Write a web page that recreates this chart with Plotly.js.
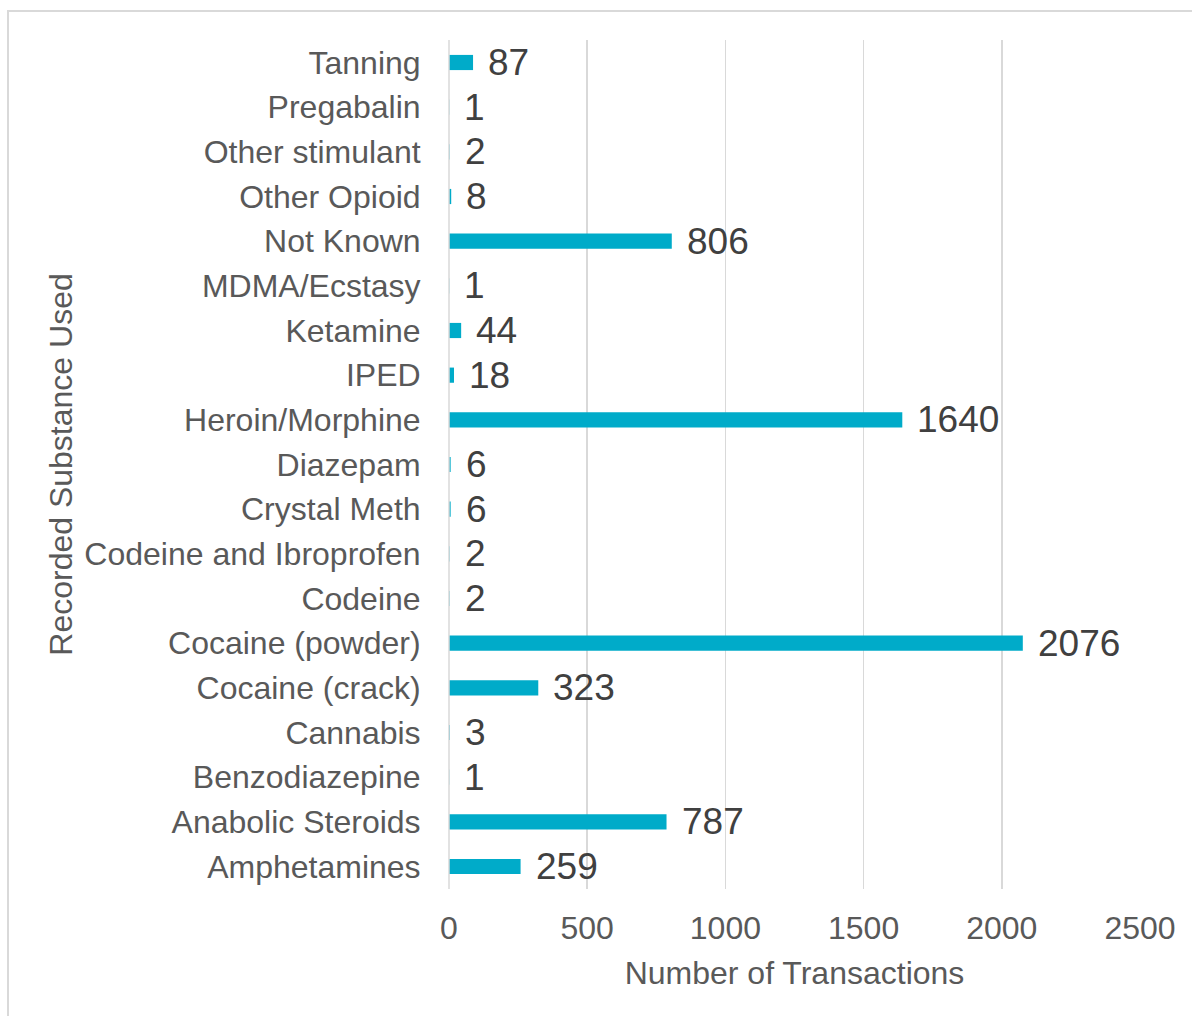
<!DOCTYPE html>
<html>
<head>
<meta charset="utf-8">
<script src="https://cdn.plot.ly/plotly-3.0.1.min.js"></script>
<style>
  html, body { margin: 0; padding: 0; background: #ffffff; }
  #chart { width: 1192px; height: 1016px; }
</style>
</head>
<body>
<div id="chart"></div>
<script>
// Categories listed bottom to top (Plotly draws the first category at the bottom)
const categories = [
  "Amphetamines", "Anabolic Steroids", "Benzodiazepine", "Cannabis",
  "Cocaine (crack)", "Cocaine (powder)", "Codeine", "Codeine and Ibroprofen",
  "Crystal Meth", "Diazepam", "Heroin/Morphine", "IPED", "Ketamine",
  "MDMA/Ecstasy", "Not Known", "Other Opioid", "Other stimulant",
  "Pregabalin", "Tanning"
];
const transactions = [
  259, 787, 1, 3,
  323, 2076, 2, 2,
  6, 6, 1640, 18, 44,
  1, 806, 8, 2,
  1, 87
];
const xTickValues = [0, 500, 1000, 1500, 2000, 2500];
const xTitle = "Number of Transactions";
const yTitle = "Recorded Substance Used";

const FONT = "'Liberation Sans', Arial, sans-serif";

const trace = {
  type: "bar",
  orientation: "h",
  y: categories,
  x: transactions,
  width: 0.34,
  marker: { color: "#00ABC9", line: { width: 0 } },
  hoverinfo: "skip"
};

const labelAnnotations = categories.map((c, i) => ({
  x: transactions[i],
  y: c,
  xref: "x",
  yref: "y",
  text: String(transactions[i]),
  showarrow: false,
  xanchor: "left",
  yanchor: "middle",
  xshift: 13,
  yshift: 0,
  font: { family: FONT, size: 37, color: "#404040" }
}));

const layout = {
  width: 1192,
  height: 1016,
  margin: { l: 449, r: 52, t: 40, b: 127, pad: 0 },
  paper_bgcolor: "#ffffff",
  plot_bgcolor: "#ffffff",
  font: { family: FONT, color: "#595959" },
  showlegend: false,
  xaxis: {
    range: [0, 2500],
    tickvals: xTickValues,
    ticktext: xTickValues.map(String),
    showgrid: true,
    gridcolor: "#d9d9d9",
    gridwidth: 1.5,
    zeroline: false,
    showline: false,
    ticks: "outside",
    ticklen: 11,
    tickcolor: "rgba(0,0,0,0)",
    tickfont: { family: FONT, size: 32, color: "#595959" },
    automargin: false,
    title: {
      text: xTitle,
      font: { family: FONT, size: 32, color: "#595959" },
      standoff: 16
    },
    fixedrange: true
  },
  yaxis: {
    type: "category",
    categoryorder: "array",
    categoryarray: categories,
    showgrid: false,
    zeroline: false,
    showline: false,
    ticks: "outside",
    ticklen: 21,
    tickcolor: "rgba(0,0,0,0)",
    tickfont: { family: FONT, size: 32, color: "#595959" },
    automargin: false,
    title: {
      text: yTitle,
      font: { family: FONT, size: 32, color: "#595959" },
      standoff: 2
    },
    fixedrange: true
  },
  shapes: [
    {
      type: "line", xref: "paper", yref: "paper",
      x0: 0, x1: 0, y0: 0, y1: 1,
      line: { color: "#d9d9d9", width: 1.5 }
    },
    {
      type: "rect", xref: "paper", yref: "paper",
      x0: (8 - 449) / 691, x1: 1.2,
      y0: -0.3, y1: (889 - 11) / 849,
      line: { color: "#d9d9d9", width: 2 },
      fillcolor: "rgba(0,0,0,0)",
      layer: "below"
    }
  ],
  annotations: labelAnnotations
};

Plotly.newPlot("chart", [trace], layout, { displayModeBar: false, staticPlot: true });
</script>
</body>
</html>
